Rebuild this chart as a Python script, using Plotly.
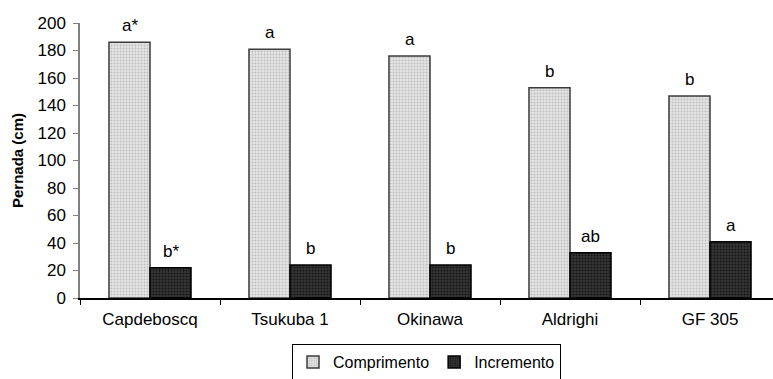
import plotly.graph_objects as go

# Cultivars and measurements (cm)
cultivares = ["Capdeboscq", "Tsukuba 1", "Okinawa", "Aldrighi", "GF 305"]
comprimento = [186, 181, 176, 153, 147]
incremento = [22, 24, 24, 33, 41]

# Mean-comparison letters shown above each bar
letras_comprimento = ["a*", "a", "a", "b", "b"]
letras_incremento = ["b*", "b", "b", "ab", "a"]

y_ticks = [0, 20, 40, 60, 80, 100, 120, 140, 160, 180, 200]

FONT = "Liberation Sans, Arial, sans-serif"

fig = go.Figure()
fig.add_trace(go.Bar(
    name="Comprimento", x=cultivares, y=comprimento,
    marker=dict(
        color="#dedede",
        line=dict(color="#3c3c3c", width=1.5),
        pattern=dict(shape=".", bgcolor="#e6e6e6", fgcolor="#bdbdbd",
                     size=3, solidity=0.35, fillmode="replace"),
    ),
))
fig.add_trace(go.Bar(
    name="Incremento", x=cultivares, y=incremento,
    marker=dict(
        color="#2e2e2e",
        line=dict(color="#000000", width=1.5),
        pattern=dict(shape=".", bgcolor="#353535", fgcolor="#151515",
                     size=3, solidity=0.35, fillmode="replace"),
    ),
))

annotations = []
for cat, v, t in zip(cultivares, comprimento, letras_comprimento):
    annotations.append(dict(x=cat, y=v, text=t, xref="x", yref="y",
                            xshift=-20.5, yshift=5, yanchor="bottom",
                            showarrow=False, font=dict(size=17, color="#000")))
for cat, v, t in zip(cultivares, incremento, letras_incremento):
    annotations.append(dict(x=cat, y=v, text=t, xref="x", yref="y",
                            xshift=20.5, yshift=5, yanchor="bottom",
                            showarrow=False, font=dict(size=17, color="#000")))

fig.update_layout(
    width=773, height=379,
    margin=dict(l=80, r=0, t=23, b=81, autoexpand=False),
    paper_bgcolor="white", plot_bgcolor="white",
    font=dict(family=FONT, size=17, color="#000"),
    barmode="group", bargap=0.414, bargroupgap=0,
    showlegend=True,
    legend=dict(orientation="h", x=0.5, xanchor="center", y=-0.168, yanchor="top",
                bordercolor="#000", borderwidth=1, bgcolor="white",
                font=dict(size=16), itemwidth=30, tracegroupgap=0),
    annotations=annotations,
)
fig.update_xaxes(
    range=[-0.5, 4.45],
    showline=True, linecolor="#000", linewidth=1.5,
    ticks="outside", ticklen=5, tickcolor="#000", tickson="boundaries",
    ticklabelstandoff=5,
    showgrid=False, zeroline=False,
)
fig.update_yaxes(
    range=[0, 200], tickvals=y_ticks,
    showline=True, linecolor="#808080", linewidth=1.5,
    ticks="outside", ticklen=5, tickcolor="#808080",
    ticklabelstandoff=4,
    showgrid=False, zeroline=False,
    title=dict(text="<b>Pernada (cm)</b>", font=dict(size=15), standoff=10),
)

fig.write_html("out.html")
